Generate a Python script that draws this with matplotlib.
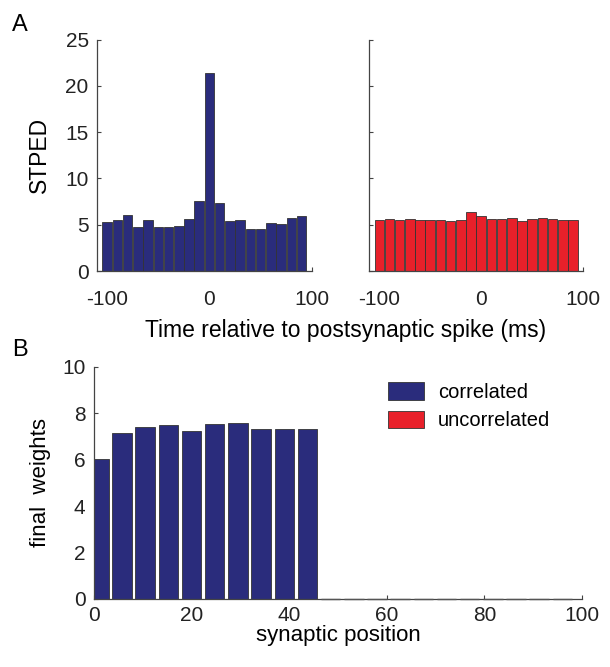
import matplotlib
matplotlib.use("Agg")
import matplotlib.pyplot as plt
import matplotlib.patches as mpatches
import numpy as np

plt.rcParams['font.family'] = ['Liberation Sans', 'DejaVu Sans']
plt.rcParams['axes.unicode_minus'] = False

C_CORR = "#2a2c7c"
C_UNC = "#e8202a"
C_EDGE = "#333333"
C_AXIS = "#444444"

# ── data ──────────────────────────────────────────────────────────────────────
time_bins = np.arange(-100, 100, 10)
stped_corr = [5.3, 5.5, 6.1, 4.75, 5.5, 4.7, 4.8, 4.9, 5.6, 7.55,
              21.4, 7.3, 5.35, 5.5, 4.5, 4.5, 5.2, 5.05, 5.75, 5.95]
stped_unc = [5.5, 5.6, 5.5, 5.6, 5.5, 5.5, 5.5, 5.4, 5.5, 6.4,
             5.9, 5.6, 5.6, 5.75, 5.4, 5.6, 5.75, 5.6, 5.5, 5.5]

syn_pos = 1 + 4.75 * np.arange(21)
weights_corr = [6.03, 7.15, 7.4, 7.48, 7.22, 7.53, 7.6, 7.33, 7.33, 7.33]
weights_unc = [0.0] * 11

fig = plt.figure(figsize=(6.1, 6.67), dpi=100)


def style(ax, xpad=6):
    for s in ('top', 'right'):
        ax.spines[s].set_visible(False)
    for s in ('left', 'bottom'):
        ax.spines[s].set_color(C_AXIS)
        ax.spines[s].set_linewidth(0.9)
    ax.tick_params(direction='in', length=3, width=0.8, color=C_AXIS,
                   labelsize=15, labelcolor='#222222', pad=6)
    ax.tick_params(axis='x', pad=xpad)


# ── panel A left ──────────────────────────────────────────────────────────────
axL = fig.add_axes([0.159, 0.5937, 0.352, 0.347])
axL.bar(time_bins, stped_corr, width=9.3, color=C_CORR,
        edgecolor=C_EDGE, linewidth=0.6, zorder=2)
axL.set_xlim(-110, 100)
axL.set_ylim(0, 25)
axL.set_xticks([-100, 0, 100])
axL.set_yticks([0, 5, 10, 15, 20, 25])
axL.set_ylabel("STPED", fontsize=16.5, labelpad=10)
style(axL, xpad=14)

# ── panel A right ─────────────────────────────────────────────────────────────
axR = fig.add_axes([0.605, 0.5937, 0.351, 0.347])
axR.bar(time_bins, stped_unc, width=9.3, color=C_UNC,
        edgecolor=C_EDGE, linewidth=0.6, zorder=2)
axR.set_xlim(-110, 100)
axR.set_ylim(0, 25)
axR.set_xticks([-100, 0, 100])
axR.set_yticks([0, 5, 10, 15, 20, 25])
axR.set_yticklabels([])
style(axR, xpad=14)

fig.text(0.566, 0.505, "Time relative to postsynaptic spike (ms)",
         ha='center', va='center', fontsize=16.5)

# ── panel B ───────────────────────────────────────────────────────────────────
axB = fig.add_axes([0.154, 0.102, 0.800, 0.348])
axB.bar(syn_pos[:10], weights_corr, width=4.0, color=C_CORR,
        edgecolor=C_EDGE, linewidth=0.6, zorder=2)
axB.bar(syn_pos[10:], weights_unc, width=4.0, color=C_UNC,
        edgecolor="#555555", linewidth=1.0, zorder=3, clip_on=False)
axB.set_xlim(0, 100)
axB.set_ylim(0, 10)
axB.set_xticks(np.arange(0, 101, 20))
axB.set_yticks(np.arange(0, 11, 2))
axB.set_xlabel("synaptic position", fontsize=16, labelpad=0)
axB.set_ylabel("final  weights", fontsize=16, labelpad=8)
style(axB, xpad=5)

handles = [mpatches.Patch(facecolor=C_CORR, edgecolor=C_EDGE, lw=0.6, label="correlated"),
           mpatches.Patch(facecolor=C_UNC, edgecolor=C_EDGE, lw=0.6, label="uncorrelated")]
axB.legend(handles=handles, loc='upper left', bbox_to_anchor=(0.565, 1.012),
           frameon=False, fontsize=14.5, handlelength=1.8, handleheight=0.95,
           labelspacing=0.45, handletextpad=0.7)

fig.text(0.033, 0.962, "A", fontsize=17, ha='center', va='center')
fig.text(0.033, 0.475, "B", fontsize=17, ha='center', va='center')

fig.savefig("out.png", dpi=100)
